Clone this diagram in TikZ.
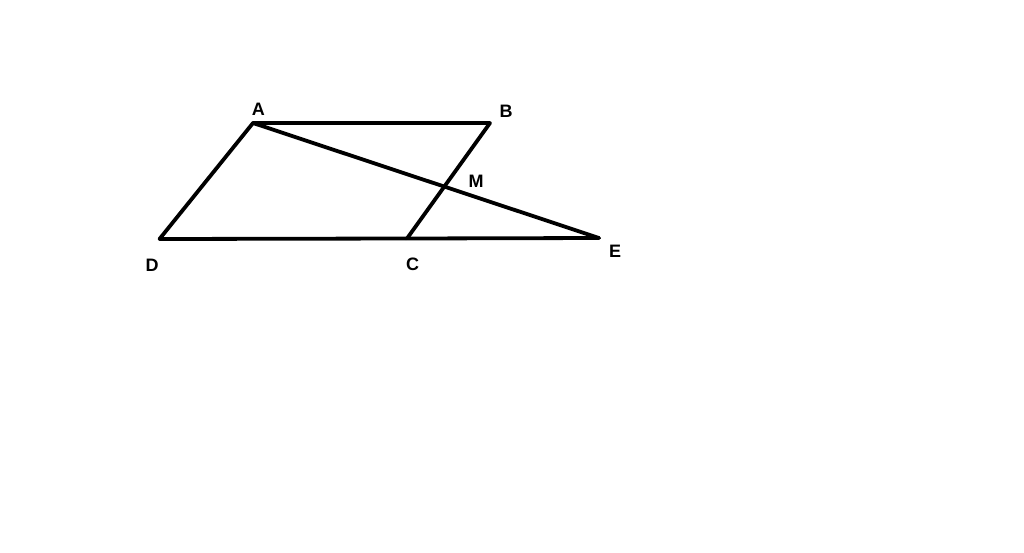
\documentclass[tikz,border=0pt]{standalone}
\usepackage{fontspec}
\setmainfont{Liberation Sans}
\begin{document}
\begin{tikzpicture}[x=1pt,y=-1pt,
  seg/.style={line width=3.8pt,line cap=round,line join=round,black},
  lbl/.style={font=\fontsize{18}{20}\selectfont\bfseries,inner sep=0pt}]
\useasboundingbox[fill=white] (0,0) rectangle (1024,552);
\coordinate (A) at (253,123);
\coordinate (B) at (490,123);
\coordinate (C) at (407,238.5);
\coordinate (D) at (159.5,239);
\coordinate (E) at (599,238);
\coordinate (M) at (intersection of A--E and B--C);
\draw[seg] (D) -- (A) -- (B) -- (C);
\draw[seg] (D) -- (C) -- (E);
\draw[seg] (A) -- (M) -- (E);
\node[lbl] (la) at (258.3,109) {A};
\node[lbl] (lb) at (506,111.5) {B};
\node[lbl] (lm) at (476,181.5) {M};
\node[lbl] (ld) at (152,265) {D};
\node[lbl] (lc) at (412.5,264) {C};
\node[lbl] (le) at (615,251.5) {E};
\end{tikzpicture}
\end{document}
